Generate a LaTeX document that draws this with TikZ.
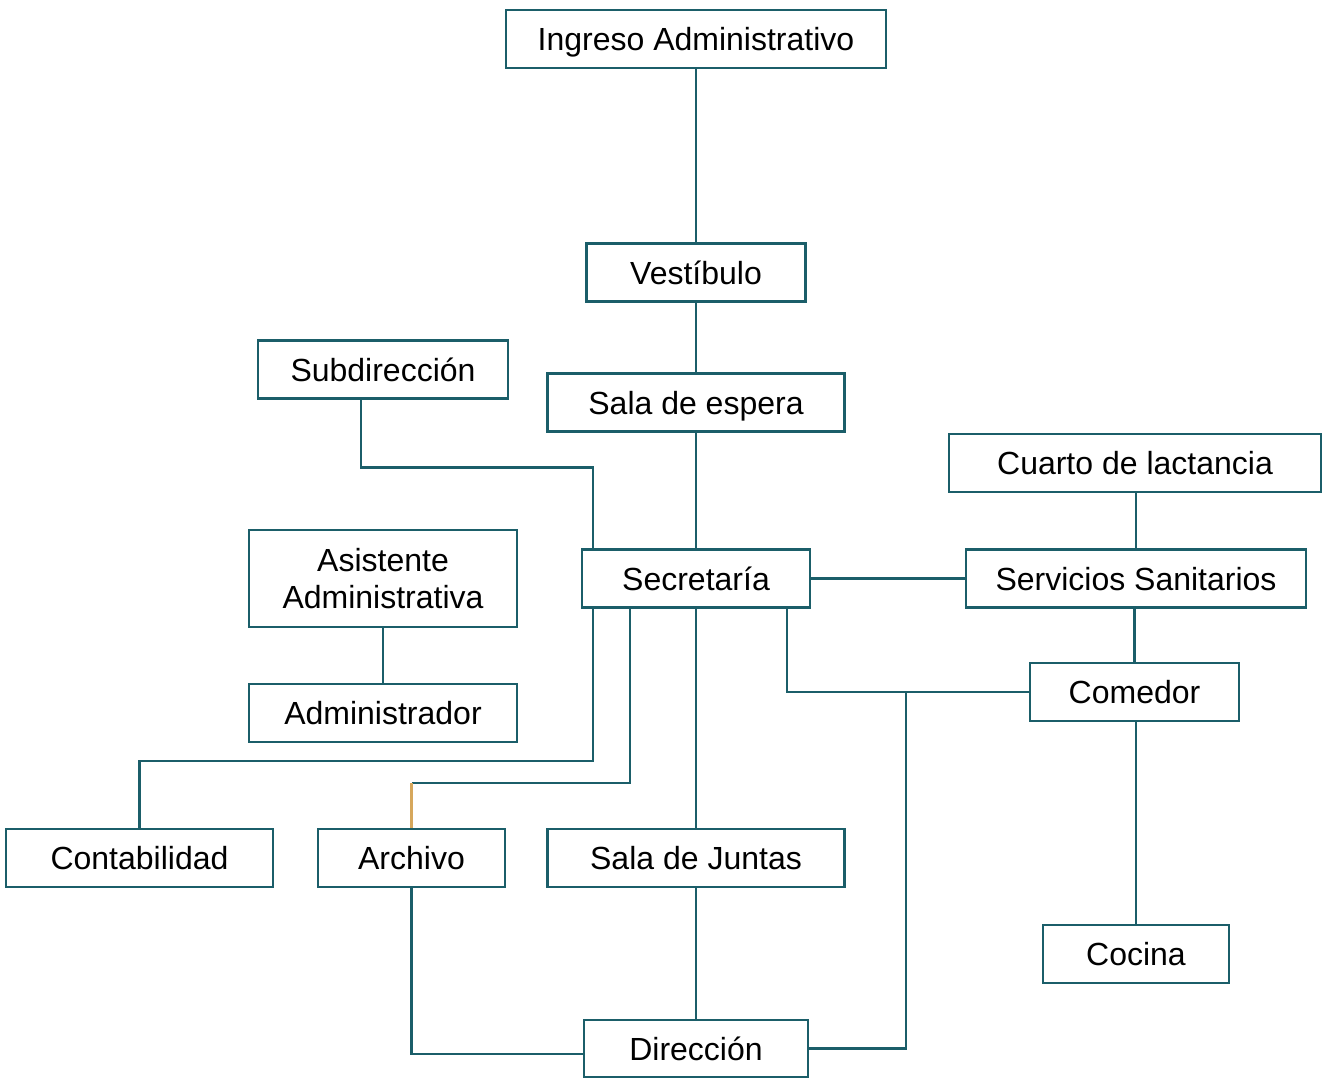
\documentclass[tikz,border=0pt]{standalone}
\usepackage{fontspec}
\setmainfont{Liberation Sans}
\usetikzlibrary{calc}
\definecolor{teal1}{HTML}{1B5E69}
\definecolor{ochre}{HTML}{D6A75C}
\begin{document}
\begin{tikzpicture}[x=0.5pt,y=-0.5pt,
 basebox/.style={draw=teal1, line width=1.1pt, fill=white, inner sep=0pt,
   minimum height=29pt, font=\fontsize{16}{18.5}\selectfont, align=center},
 box/.style={basebox, text height=11.5pt, text depth=0pt},
 link/.style={draw=teal1, line width=1.1pt},
 olink/.style={draw=ochre, line width=1.1pt}]
\useasboundingbox (0,0) rectangle (1329,1078);
\fill[white] (0,0) rectangle (1329,1078);
% nodes
\node[box, minimum width=190pt] (ing) at (696,39) {Ingreso Administrativo};
\node[box, minimum width=109.5pt] (ves) at (696,272.5) {Vestíbulo};
\node[box, minimum width=148.5pt] (esp) at (696,402.5) {Sala de espera};
\node[box, minimum width=125pt] (sub) at (383,369.5) {Subdirección};
\node[box, minimum width=186pt] (cua) at (1135,463) {Cuarto de lactancia};
\node[basebox, minimum width=134pt, minimum height=48.5pt] (asi) at (383,578.5) {Asistente\\Administrativa};
\node[box, minimum width=114pt] (sec) at (696,578.5) {Secretaría};
\node[box, minimum width=170pt] (san) at (1136,578.5) {Servicios Sanitarios};
\node[box, minimum width=134pt] (adm) at (383,713) {Administrador};
\node[box, minimum width=104.5pt] (com) at (1134.5,692) {Comedor};
\node[box, minimum width=133.5pt] (con) at (139.5,858) {Contabilidad};
\node[box, minimum width=93.5pt] (arc) at (411.5,858) {Archivo};
\node[box, minimum width=148.5pt] (jun) at (696,858) {Sala de Juntas};
\node[box, minimum width=93pt] (coc) at (1136,954) {Cocina};
\node[box, minimum width=112pt, minimum height=28.5pt] (dir) at (696,1048.5) {Dirección};
% connectors
\draw[link] (ing) -- (ves);
\draw[link] (ves) -- (esp);
\draw[link] (esp) -- (sec);
\draw[link] ($(sub.south west)+(104,0)$) |- ($(sec.north west)+(12,-81)$) -- ($(sec.north west)+(12,0)$);
\draw[link] (asi) -- (adm);
\draw[link] (sec) -- (san);
\draw[link] (cua.south -| san.north) -- (san.north);
\draw[link] (com.north) -- (com.north |- san.south);
\draw[link] (coc.north) -- (coc.north |- com.south);
\draw[link] ($(sec.south west)+(206,0)$) |- (com.west);
\draw[link] (dir.east) -| ($(com.west)+(-123,0)$);
\draw[link] ($(sec.south west)+(12,0)$) |- ($(con.north)+(0,-67)$) -- (con.north);
\draw[link] ($(sec.south west)+(49,0)$) |- ($(arc.north)+(0,-45)$);
\draw[olink] ($(arc.north)+(0,-45)$) -- (arc.north);
\draw[link] (sec) -- (jun);
\draw[link] (jun) -- (dir);
\draw[link] (arc.south) |- ($(dir.west)+(0,5.5)$);
\end{tikzpicture}
\end{document}
